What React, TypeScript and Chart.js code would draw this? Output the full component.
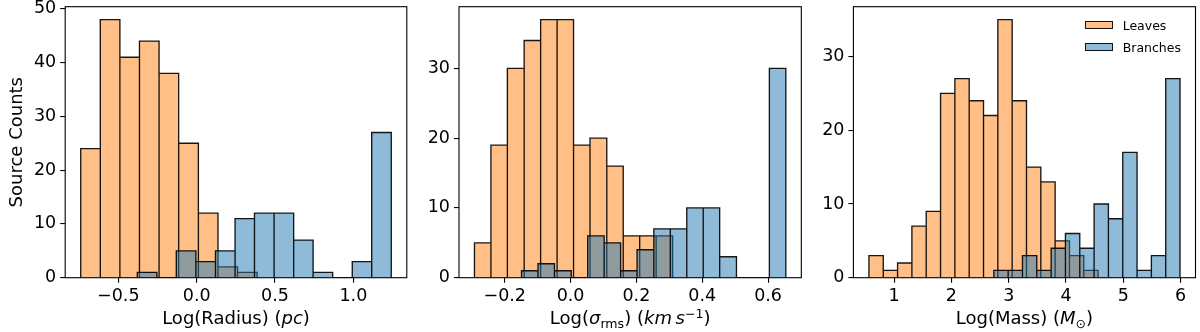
import React, { useEffect, useRef } from "react";
import { Chart, registerables } from "chart.js";

Chart.register(...registerables);

// ---------- DATA ----------
const seriesNames = ["Leaves", "Branches"];

// Panel 1: Log(Radius)
const radiusLeavesEdges = [-0.740, -0.615, -0.490, -0.365, -0.240, -0.115, 0.011, 0.136, 0.261, 0.386];
const radiusLeavesCounts = [24, 48, 41, 44, 38, 25, 12, 2, 1];
const radiusBranchesEdges = [-0.379, -0.254, -0.130, -0.005, 0.120, 0.245, 0.369, 0.494, 0.619, 0.743, 0.868, 0.993, 1.117, 1.242];
const radiusBranchesCounts = [1, 0, 5, 3, 5, 11, 12, 12, 7, 1, 0, 3, 27];
const radiusTicks = [-0.5, 0.0, 0.5, 1.0];
const radiusTickLabels = ["\u22120.5", "0.0", "0.5", "1.0"];

// Panel 2: Log(sigma_rms)
const sigmaLeavesEdges = [-0.292, -0.242, -0.192, -0.141, -0.091, -0.041, 0.009, 0.059, 0.110, 0.160, 0.210, 0.260, 0.310];
const sigmaLeavesCounts = [5, 19, 30, 34, 37, 37, 19, 20, 16, 6, 6, 6];
const sigmaBranchesEdges = [-0.149, -0.099, -0.049, 0.002, 0.052, 0.102, 0.152, 0.202, 0.253, 0.303, 0.353, 0.403, 0.453, 0.504, 0.554, 0.604, 0.654];
const sigmaBranchesCounts = [1, 2, 1, 0, 6, 5, 1, 4, 7, 7, 10, 10, 3, 0, 0, 30];
const sigmaTicks = [-0.2, 0.0, 0.2, 0.4, 0.6];
const sigmaTickLabels = ["\u22120.2", "0.0", "0.2", "0.4", "0.6"];

// Panel 3: Log(Mass)
const massLeavesEdges = [0.56, 0.81, 1.06, 1.31, 1.56, 1.81, 2.06, 2.31, 2.56, 2.81, 3.06, 3.31, 3.56, 3.81, 4.06, 4.31, 4.56];
const massLeavesCounts = [3, 1, 2, 7, 9, 25, 27, 24, 22, 35, 24, 15, 13, 5, 3, 1];
const massBranchesEdges = [2.74, 2.99, 3.24, 3.49, 3.74, 3.99, 4.24, 4.49, 4.74, 4.99, 5.24, 5.49, 5.74, 5.99];
const massBranchesCounts = [1, 1, 3, 1, 4, 6, 4, 10, 8, 17, 1, 3, 27];
const massTicks = [1, 2, 3, 4, 5, 6];
const massTickLabels = ["1", "2", "3", "4", "5", "6"];

const countTicksA = [0, 10, 20, 30, 40, 50];
const countTicksB = [0, 10, 20, 30];
const yAxisTitle = "Source Counts";

// ---------- STYLE / LAYOUT ----------
const FONT = "'DejaVu Sans', 'Liberation Sans', sans-serif";
const ORANGE_FILL = "rgba(255,127,14,0.5)";
const BLUE_FILL = "rgba(31,119,180,0.5)";
const EDGE = "rgba(0,0,0,0.9)";
const H = 332;
const PLOT_TOP = 6.7;
const PLOT_BOTTOM = 277.7;
const TICK_FONT = 17.5;
const TITLE_FONT = 18;

type Panel = {
  canvasLeft: number; canvasWidth: number; plotLeft: number; plotRight: number;
  xMin: number; xMax: number; yMax: number;
  xTicks: number[]; xTickLabels: string[]; yTicks: number[];
  leavesEdges: number[]; leavesCounts: number[];
  branchesEdges: number[]; branchesCounts: number[];
  showYTitle: boolean;
};

const panels: Panel[] = [
  {
    canvasLeft: 0, canvasWidth: 415, plotLeft: 65.2, plotRight: 406.8,
    xMin: -0.839, xMax: 1.341, yMax: 50.4,
    xTicks: radiusTicks, xTickLabels: radiusTickLabels, yTicks: countTicksA,
    leavesEdges: radiusLeavesEdges, leavesCounts: radiusLeavesCounts,
    branchesEdges: radiusBranchesEdges, branchesCounts: radiusBranchesCounts,
    showYTitle: true,
  },
  {
    canvasLeft: 420, canvasWidth: 390, plotLeft: 459, plotRight: 801.3,
    xMin: -0.339, xMax: 0.701, yMax: 38.85,
    xTicks: sigmaTicks, xTickLabels: sigmaTickLabels, yTicks: countTicksB,
    leavesEdges: sigmaLeavesEdges, leavesCounts: sigmaLeavesCounts,
    branchesEdges: sigmaBranchesEdges, branchesCounts: sigmaBranchesCounts,
    showYTitle: false,
  },
  {
    canvasLeft: 815, canvasWidth: 385, plotLeft: 853.4, plotRight: 1195.5,
    xMin: 0.289, xMax: 6.26, yMax: 36.75,
    xTicks: massTicks, xTickLabels: massTickLabels, yTicks: countTicksB,
    leavesEdges: massLeavesEdges, leavesCounts: massLeavesCounts,
    branchesEdges: massBranchesEdges, branchesCounts: massBranchesCounts,
    showYTitle: false,
  },
];

function histPoints(edges: number[], counts: number[]) {
  const pts: { x: number; y: number }[] = [];
  counts.forEach((c, i) => {
    pts.push({ x: edges[i], y: 0 }, { x: edges[i], y: c }, { x: edges[i + 1], y: c }, { x: edges[i + 1], y: 0 });
  });
  return pts;
}

const framePlugin = {
  id: "frame",
  afterDatasetsDraw(chart: any) {
    const { ctx, chartArea } = chart;
    ctx.save();
    ctx.strokeStyle = "#000";
    ctx.lineWidth = 1.1;
    ctx.strokeRect(chartArea.left, chartArea.top, chartArea.right - chartArea.left, chartArea.bottom - chartArea.top);
    ctx.restore();
  },
};

function HistPanel({ p }: { p: Panel }) {
  const ref = useRef<HTMLCanvasElement>(null);
  useEffect(() => {
    const canvas = ref.current!;
    const ds = (label: string, edges: number[], counts: number[], fillColor: string, order: number) => ({
      label,
      data: histPoints(edges, counts),
      borderColor: EDGE,
      backgroundColor: fillColor,
      borderWidth: 1.35,
      borderJoinStyle: "miter",
      fill: "origin",
      pointRadius: 0,
      pointHoverRadius: 0,
      tension: 0,
      order,
    });
    const chart = new Chart(canvas, {
      type: "line",
      data: {
        datasets: [
          ds(seriesNames[0], p.leavesEdges, p.leavesCounts, ORANGE_FILL, 2),
          ds(seriesNames[1], p.branchesEdges, p.branchesCounts, BLUE_FILL, 1),
        ] as any,
      },
      options: {
        responsive: false,
        animation: false,
        events: [],
        layout: {
          padding: { top: PLOT_TOP, left: 0, bottom: 0, right: p.canvasLeft + p.canvasWidth - p.plotRight },
        },
        plugins: { legend: { display: false }, tooltip: { enabled: false } },
        scales: {
          x: {
            type: "linear",
            min: p.xMin,
            max: p.xMax,
            afterBuildTicks: (s: any) => { s.ticks = p.xTicks.map((v) => ({ value: v })); },
            afterFit: (s: any) => { s.height = H - PLOT_BOTTOM; s.paddingLeft = 0; s.paddingRight = 0; },
            ticks: {
              autoSkip: false, maxRotation: 0, padding: 3, color: "#000",
              font: { family: FONT, size: TICK_FONT },
              callback: (v: any) => p.xTickLabels[p.xTicks.indexOf(Number(v))] ?? "",
            },
            grid: { drawOnChartArea: false, drawTicks: true, tickLength: 5, color: "#000", lineWidth: 1.1 },
            border: { display: false },
          },
          y: {
            type: "linear",
            min: 0,
            max: p.yMax,
            afterBuildTicks: (s: any) => { s.ticks = p.yTicks.map((v) => ({ value: v })); },
            afterFit: (s: any) => { s.width = p.plotLeft - p.canvasLeft; s.paddingTop = 0; s.paddingBottom = 0; },
            ticks: { padding: 4, color: "#000", font: { family: FONT, size: TICK_FONT } },
            grid: { drawOnChartArea: false, drawTicks: true, tickLength: 5, color: "#000", lineWidth: 1.1 },
            border: { display: false },
            title: {
              display: p.showYTitle, text: yAxisTitle, color: "#000",
              font: { family: FONT, size: TITLE_FONT }, padding: { top: 7, bottom: 0 },
            },
          },
        },
      } as any,
      plugins: [framePlugin],
    });
    return () => chart.destroy();
  }, [p]);
  return (
    <canvas
      ref={ref}
      width={p.canvasWidth}
      height={H}
      style={{ position: "absolute", left: p.canvasLeft, top: 0, width: p.canvasWidth, height: H }}
    />
  );
}

const titleStyle = (p: Panel): React.CSSProperties => ({
  position: "absolute",
  left: p.plotLeft,
  width: p.plotRight - p.plotLeft,
  top: 308,
  height: 22,
  lineHeight: "20px",
  textAlign: "center",
  fontFamily: FONT,
  fontSize: TITLE_FONT,
  color: "#000",
  whiteSpace: "nowrap",
});

const subStyle: React.CSSProperties = { fontSize: "70%", position: "relative", top: "0.3em" };
const supStyle: React.CSSProperties = { fontSize: "70%", position: "relative", top: "-0.45em" };

export default function App() {
  return (
    <div style={{ position: "fixed", left: 0, top: 0, width: 1200, height: H, background: "#fff", overflow: "hidden" }}>
      {panels.map((p, i) => <HistPanel key={i} p={p} />)}
      <div style={titleStyle(panels[0])}>Log(Radius) (<i>pc</i>)</div>
      <div style={titleStyle(panels[1])}>
        Log(<i>σ</i><span style={subStyle}>rms</span>) (<i>km</i>&#8201;<i>s</i><span style={supStyle}>−1</span>)
      </div>
      <div style={titleStyle(panels[2])}>
        Log(Mass) (<i>M</i><span style={subStyle}>⊙</span>)
      </div>
      {[ORANGE_FILL, BLUE_FILL].map((c, i) => (
        <React.Fragment key={i}>
          <div style={{
            position: "absolute", left: 1085, top: 20.7 + i * 22.7, width: 27.7, height: 8,
            background: c, border: "1.2px solid " + EDGE, boxSizing: "border-box",
          }} />
          <div style={{
            position: "absolute", left: 1122.7, top: 17.5 + i * 22.7, height: 15, lineHeight: "15px",
            fontFamily: FONT, fontSize: 12.5, color: "#000", whiteSpace: "nowrap",
          }}>{seriesNames[i]}</div>
        </React.Fragment>
      ))}
    </div>
  );
}
